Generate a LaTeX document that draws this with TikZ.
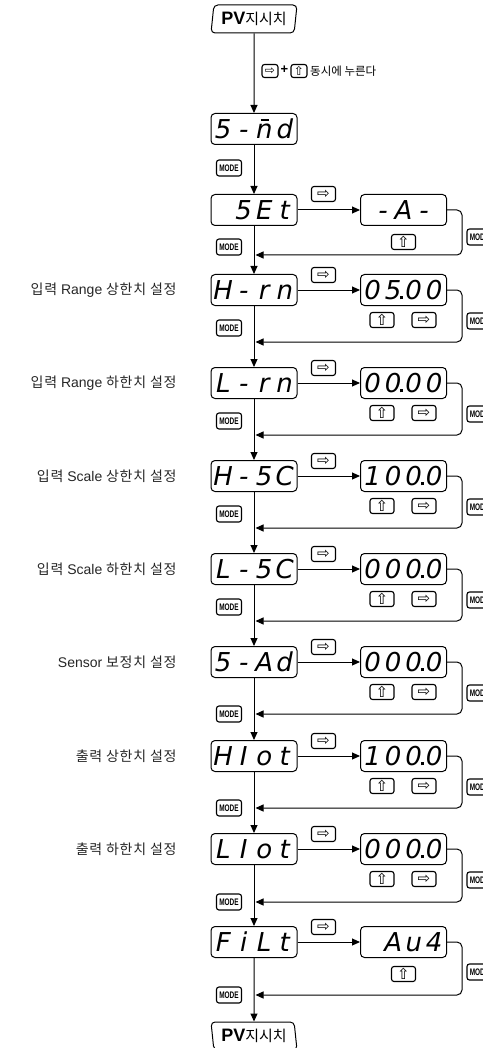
\documentclass[tikz,border=0pt]{standalone}
\usepackage{fontspec}
\usepackage{graphicx}
\setmainfont{Noto Sans CJK KR}
\newfontfamily\segfont{DejaVu Sans}
\newfontfamily\symfont{DejaVu Sans}
\newfontfamily\latfont{Liberation Sans}
\usetikzlibrary{shapes.geometric}
\usetikzlibrary{arrows.meta}

% one cell of the seven segment display
\newcommand{\dg}[1]{\makebox[20.5pt]{#1}}
\newcommand{\pt}{\llap{\rule{3pt}{3pt}\kern2pt}}
\newcommand{\nbar}{\makebox[0pt][l]{\kern4.5pt\raisebox{18pt}{\rule{8pt}{1.8pt}}}n}
\newcommand{\modetxt}{\scalebox{0.68}[1]{MODE}}
\newcommand{\pvtxt}{{\latfont\bfseries\fontsize{18}{18}\selectfont PV}{\fontsize{15}{15}\selectfont 지시치}}

\tikzset{
  disp/.style={draw, line width=1pt, rounded corners=4pt, minimum width=86pt, minimum height=31pt, inner sep=0pt, font=\segfont\itshape\fontsize{26}{26}\selectfont},
  keybtn/.style={draw, line width=1.1pt, rounded corners=2.5pt, minimum width=24pt, minimum height=15pt, inner sep=0pt, font=\symfont\fontsize{15}{15}\selectfont},
  smallkey/.style={keybtn, minimum width=16pt, minimum height=13pt, font=\symfont\fontsize{12}{12}\selectfont},
  modebtn/.style={draw, line width=1.1pt, rounded corners=2.5pt, minimum width=25pt, minimum height=16pt, inner sep=0pt, font=\latfont\bfseries\fontsize{9.5}{9.5}\selectfont},
  pvbox/.style={draw, line width=1pt, trapezium, trapezium stretches body, rounded corners=4pt, minimum width=86pt, minimum height=28pt, inner sep=0pt},
  setlbl/.style={anchor=east, text=black!85, font=\fontsize{14}{14}\selectfont\addfontfeature{LetterSpace=5}},
  flow/.style={-{Triangle[length=8pt,width=7pt]}, line width=1pt},
  back/.style={flow, rounded corners=5pt},
}

\begin{document}
\begin{tikzpicture}[x=1pt, y=-1pt]
    \useasboundingbox (0,0) rectangle (482,1048);

    \node[pvbox, trapezium left angle=78, trapezium right angle=102] (pvtop) at (254,19) {\pvtxt};
    \node[smallkey] (cr) at (270,71) {⇨};
    \node[font=\latfont\bfseries\fontsize{13}{13}\selectfont, inner sep=0pt] (cplus) at (284.5,70) {+};
    \node[smallkey] (cu) at (299,71) {⇧};
    \node[anchor=west, font=\fontsize{11.5}{12}\selectfont, inner sep=0pt] (ctxt) at (310,71) {동시에 누른다};

    \node[disp] (smd) at (254,129) {\dg{5}\dg{-}\dg{\nbar}\dg{d}};
    \node[modebtn] (lm00) at (229,168) {\modetxt};
    \draw[flow] (pvtop.south) -- (smd.north);

    % SEt
    \node[disp] (set) at (254,210) {\dg{}\dg{5}\dg{E}\dg{t}};
    \node[keybtn] (h0) at (323.5,194) {⇨};
    \node[disp] (r0) at (403.5,210) {\dg{-}\dg{A}\dg{-}};
    \node[keybtn] (u0) at (403.5,242) {⇧};
    \node[modebtn] (rm0) at (479.5,237) {\modetxt};
    \node[modebtn] (lm0) at (229,247) {\modetxt};
    \coordinate (j0) at (255.5,255);
    \draw[flow] (smd.south) -- (set.north);
    \draw[flow] (set.east) -- (r0.west);
    \draw[back] (r0.east) -- ++(15,0) |- (j0);

    % H-rn
    \node[setlbl] (t1) at (180,290) {입력 {\latfont Range} 상한치 설정};
    \node[disp] (m1) at (254,290) {\dg{H}\dg{-}\dg{r}\dg{n}};
    \node[keybtn] (h1) at (323.5,275) {⇨};
    \node[disp] (r1) at (403.5,290) {\dg{0}\dg{5}\dg{\pt0}\dg{0}};
    \node[keybtn] (u1) at (382,320) {⇧};
    \node[keybtn] (s1) at (424,320) {⇨};
    \node[modebtn] (rm1) at (479.5,321) {\modetxt};
    \node[modebtn] (lm1) at (229,328) {\modetxt};
    \coordinate (j1) at (255.5,342);
    \draw[flow] (set.south) -- (m1.north);
    \draw[flow] (m1.east) -- (r1.west);
    \draw[back] (r1.east) -- ++(15,0) |- (j1);

    % L-rn
    \node[setlbl] (t2) at (180,383) {입력 {\latfont Range} 하한치 설정};
    \node[disp] (m2) at (254,383) {\dg{L}\dg{-}\dg{r}\dg{n}};
    \node[keybtn] (h2) at (323.5,368) {⇨};
    \node[disp] (r2) at (403.5,383) {\dg{0}\dg{0}\dg{\pt0}\dg{0}};
    \node[keybtn] (u2) at (382,413) {⇧};
    \node[keybtn] (s2) at (424,413) {⇨};
    \node[modebtn] (rm2) at (479.5,414) {\modetxt};
    \node[modebtn] (lm2) at (229,421) {\modetxt};
    \coordinate (j2) at (255.5,435);
    \draw[flow] (m1.south) -- (m2.north);
    \draw[flow] (m2.east) -- (r2.west);
    \draw[back] (r2.east) -- ++(15,0) |- (j2);

    % H-SC
    \node[setlbl] (t3) at (180,476) {입력 {\latfont Scale} 상한치 설정};
    \node[disp] (m3) at (254,476) {\dg{H}\dg{-}\dg{5}\dg{C}};
    \node[keybtn] (h3) at (323.5,461) {⇨};
    \node[disp] (r3) at (403.5,476) {\dg{1}\dg{0}\dg{0}\dg{\pt0}};
    \node[keybtn] (u3) at (382,506) {⇧};
    \node[keybtn] (s3) at (424,506) {⇨};
    \node[modebtn] (rm3) at (479.5,507) {\modetxt};
    \node[modebtn] (lm3) at (229,514) {\modetxt};
    \coordinate (j3) at (255.5,528);
    \draw[flow] (m2.south) -- (m3.north);
    \draw[flow] (m3.east) -- (r3.west);
    \draw[back] (r3.east) -- ++(15,0) |- (j3);

    % L-SC
    \node[setlbl] (t4) at (180,569) {입력 {\latfont Scale} 하한치 설정};
    \node[disp] (m4) at (254,569) {\dg{L}\dg{-}\dg{5}\dg{C}};
    \node[keybtn] (h4) at (323.5,554) {⇨};
    \node[disp] (r4) at (403.5,569) {\dg{0}\dg{0}\dg{0}\dg{\pt0}};
    \node[keybtn] (u4) at (382,599) {⇧};
    \node[keybtn] (s4) at (424,599) {⇨};
    \node[modebtn] (rm4) at (479.5,600) {\modetxt};
    \node[modebtn] (lm4) at (229,607) {\modetxt};
    \coordinate (j4) at (255.5,621);
    \draw[flow] (m3.south) -- (m4.north);
    \draw[flow] (m4.east) -- (r4.west);
    \draw[back] (r4.east) -- ++(15,0) |- (j4);

    % S-Ad
    \node[setlbl] (t5) at (180,662) {{\latfont Sensor} 보정치 설정};
    \node[disp] (m5) at (254,662) {\dg{5}\dg{-}\dg{A}\dg{d}};
    \node[keybtn] (h5) at (323.5,647) {⇨};
    \node[disp] (r5) at (403.5,662) {\dg{0}\dg{0}\dg{0}\dg{\pt0}};
    \node[keybtn] (u5) at (382,692) {⇧};
    \node[keybtn] (s5) at (424,692) {⇨};
    \node[modebtn] (rm5) at (479.5,693) {\modetxt};
    \node[modebtn] (lm5) at (229,714) {\modetxt};
    \coordinate (j5) at (255.5,714);
    \draw[flow] (m4.south) -- (m5.north);
    \draw[flow] (m5.east) -- (r5.west);
    \draw[back] (r5.east) -- ++(15,0) |- (j5);

    % HIot
    \node[setlbl] (t6) at (180,756) {출력 상한치 설정};
    \node[disp] (m6) at (254,756) {\dg{H}\dg{I}\dg{o}\dg{t}};
    \node[keybtn] (h6) at (323.5,741) {⇨};
    \node[disp] (r6) at (403.5,756) {\dg{1}\dg{0}\dg{0}\dg{\pt0}};
    \node[keybtn] (u6) at (382,786) {⇧};
    \node[keybtn] (s6) at (424,786) {⇨};
    \node[modebtn] (rm6) at (479.5,787) {\modetxt};
    \node[modebtn] (lm6) at (229,808) {\modetxt};
    \coordinate (j6) at (255.5,808);
    \draw[flow] (m5.south) -- (m6.north);
    \draw[flow] (m6.east) -- (r6.west);
    \draw[back] (r6.east) -- ++(15,0) |- (j6);

    % LIot
    \node[setlbl] (t7) at (180,849) {출력 하한치 설정};
    \node[disp] (m7) at (254,849) {\dg{L}\dg{I}\dg{o}\dg{t}};
    \node[keybtn] (h7) at (323.5,834) {⇨};
    \node[disp] (r7) at (403.5,849) {\dg{0}\dg{0}\dg{0}\dg{\pt0}};
    \node[keybtn] (u7) at (382,879) {⇧};
    \node[keybtn] (s7) at (424,879) {⇨};
    \node[modebtn] (rm7) at (479.5,880) {\modetxt};
    \node[modebtn] (lm7) at (229,902) {\modetxt};
    \coordinate (j7) at (255.5,902);
    \draw[flow] (m6.south) -- (m7.north);
    \draw[flow] (m7.east) -- (r7.west);
    \draw[back] (r7.east) -- ++(15,0) |- (j7);

    % FiLt
    \node[disp] (m8) at (254,942) {\dg{F}\dg{i}\dg{L}\dg{t}};
    \node[keybtn] (h8) at (323.5,927) {⇨};
    \node[disp] (r8) at (403.5,942) {\dg{}\dg{A}\dg{u}\dg{4}};
    \node[keybtn] (u8) at (403.5,974) {⇧};
    \node[modebtn] (rm8) at (479.5,972) {\modetxt};
    \node[modebtn] (lm8) at (229,995) {\modetxt};
    \coordinate (j8) at (255.5,995);
    \draw[flow] (m7.south) -- (m8.north);
    \draw[flow] (m8.east) -- (r8.west);
    \draw[back] (r8.east) -- ++(15,0) |- (j8);

    \node[pvbox, trapezium left angle=102, trapezium right angle=78] (pvbot) at (254,1036) {\pvtxt};
    \draw[flow] (m8.south) -- (pvbot.north);
\end{tikzpicture}
\end{document}
